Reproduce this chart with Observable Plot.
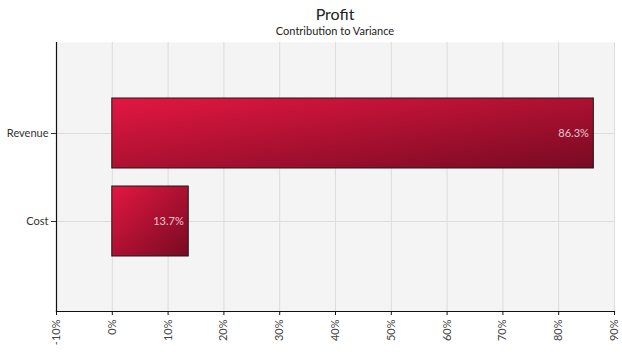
<!DOCTYPE html>
<html><head><meta charset="utf-8">
<script src="https://cdn.jsdelivr.net/npm/d3@7"></script>
<script src="https://cdn.jsdelivr.net/npm/@observablehq/plot@0.6"></script>
<style>
body{margin:0;background:#fff;font-family:Lato,sans-serif;width:622px;overflow:hidden;}
#title{padding:4px 8px 0 56px;height:20px;line-height:20px;font-size:16px;text-align:center;color:#222;}
#subtitle{padding:0 8px 0 56px;height:14px;line-height:14px;font-size:11px;text-align:center;color:#222;}
</style></head><body>
<div id="title">Profit</div>
<div id="subtitle">Contribution to Variance</div>
<div id="chart"></div>
<script>
const categories = ["Revenue", "Cost"];
const values = [86.3, 13.7];
const valueLabels = ["86.3%", "13.7%"];
const xTicks = [-10, 0, 10, 20, 30, 40, 50, 60, 70, 80, 90];

const data = categories.map((c, i) => ({category: c, value: values[i], label: valueLabels[i]}));

const chart = Plot.plot({
  width: 622,
  height: 317,
  marginTop: 4,
  marginBottom: 44,
  marginLeft: 56,
  marginRight: 8,
  style: {fontFamily: "Lato, sans-serif", fontSize: "11px", color: "#333", background: "transparent"},
  x: {domain: [-10, 90], ticks: xTicks, tickFormat: d => d + "%"},
  y: {domain: categories, paddingInner: 0.207, paddingOuter: 0.615, label: null},
  marks: [
    Plot.frame({fill: "#f4f4f4", stroke: "none"}),
    Plot.gridX({ticks: xTicks, stroke: "#dcdcdc", strokeOpacity: 1}),
    Plot.gridY({stroke: "#dcdcdc", strokeOpacity: 1}),
    Plot.barX(data, {x1: 0, x2: "value", y: "category", fill: "url(#barGrad)", stroke: "#1a1a1a", strokeWidth: 1}),
    Plot.text(data, {x: "value", y: "category", text: "label", textAnchor: "end", dx: -5, fill: "#ffffff", fillOpacity: 0.78, fontSize: 11}),
    Plot.frame({anchor: "left", stroke: "#111", strokeWidth: 1.2}),
    Plot.frame({anchor: "bottom", stroke: "#111", strokeWidth: 1.2}),
    Plot.axisX({ticks: xTicks, tickFormat: d => d + "%", tickRotate: -90, tickSize: 4, tickPadding: 4, label: null, color: "#444", stroke: "#111"}),
    Plot.axisY({tickSize: 5, tickPadding: 3, label: null, color: "#333"})
  ]
});

const defs = d3.select(chart).insert("defs", ":first-child");
const grad = defs.append("linearGradient").attr("id", "barGrad")
  .attr("x1", 0).attr("y1", 0).attr("x2", 1).attr("y2", 1);
grad.append("stop").attr("offset", "0%").attr("stop-color", "#e31741");
grad.append("stop").attr("offset", "100%").attr("stop-color", "#780a22");

document.getElementById("chart").appendChild(chart);
</script>
</body></html>
